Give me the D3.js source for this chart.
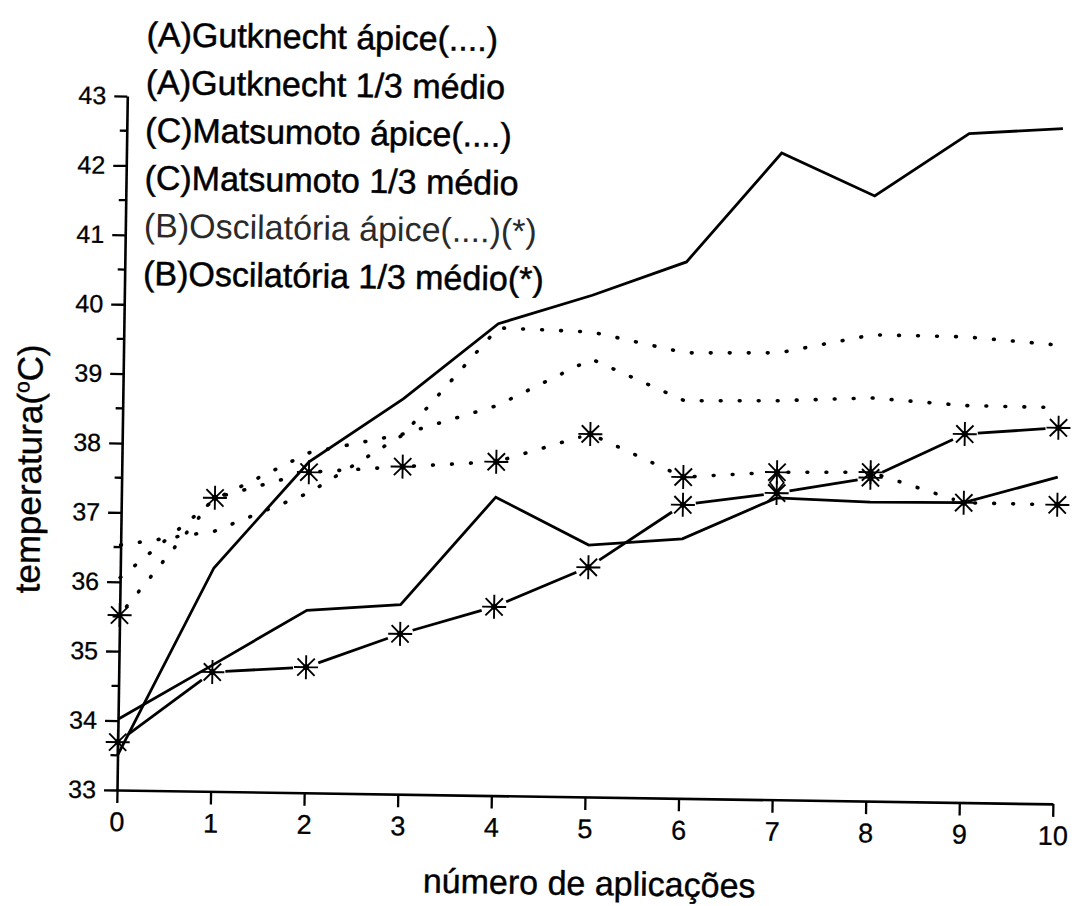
<!DOCTYPE html>
<html><head><meta charset="utf-8">
<script src="https://cdn.jsdelivr.net/npm/d3@7"></script>
<style>body{margin:0;background:#fff}svg{display:block}text{font-family:"Liberation Sans",Arial,sans-serif}</style>
</head><body>
<svg id="c" width="1083" height="906"></svg>
<script>
// ---- data ----
const applications = [0, 1, 2, 3, 4, 5, 6, 7, 8, 9, 10];
const gutknechtApice  = [36.53, 36.75, 37.32, 38.18, 39.74, 39.70, 39.42, 39.44, 39.72, 39.71, 39.61];
const gutknechtMedio  = [33.50, 36.22, 37.77, 38.70, 39.80, 40.23, 40.73, 42.32, 41.72, 42.64, 42.73];
const matsumotoApice  = [36.06, 37.21, 37.90, 38.19, 38.62, 39.31, 38.73, 38.75, 38.81, 38.72, 38.71];
const matsumotoMedio  = [34.02, 34.82, 35.63, 35.73, 37.30, 36.63, 36.74, 37.35, 37.31, 37.32, 37.71];
const oscilatoriaApice = [35.52, 37.23, 37.62, 37.72, 37.81, 38.23, 37.63, 37.72, 37.74, 37.32, 37.31];
const oscilatoriaMedio = [33.69, 34.72, 34.81, 35.31, 35.72, 36.31, 37.23, 37.42, 37.66, 38.31, 38.42];
const diamondX = [7];
const diamondY = [37.57];
const legendLabels = [
  "(A)Gutknecht ápice(....)",
  "(A)Gutknecht 1/3 médio",
  "(C)Matsumoto ápice(....)",
  "(C)Matsumoto 1/3 médio",
  "(B)Oscilatória ápice(....)(*)",
  "(B)Oscilatória 1/3 médio(*)"
];
const xTicks = [0, 1, 2, 3, 4, 5, 6, 7, 8, 9, 10];
const yTicks = [33, 34, 35, 36, 37, 38, 39, 40, 41, 42, 43];
const yMinorTicks = [33.5, 34.5, 35.5, 36.5, 37.5, 38.5, 39.5, 40.5, 41.5, 42.5];
const xTitle = "número de aplicações";
const yTitle = "temperatura(";

// ---- setup ----
const svg = d3.select("#c");
svg.append("rect").attr("width", 1083).attr("height", 906).attr("fill", "#fff");
const ANG = 0.85, OX = 117, OY = 790;
const th = ANG * Math.PI / 180, cs = Math.cos(th), sn = Math.sin(th);
function unrot(px, py) { const dx = px - OX, dy = py - OY; return [OX + dx * cs + dy * sn, OY - dx * sn + dy * cs]; }
const g = svg.append("g").attr("transform", `rotate(${ANG},${OX},${OY})`);

const x = d3.scaleLinear().domain([0, 10]).range([117, 1053]);
const y = d3.scaleLinear().domain([33, 43]).range([790, 96]);

// ---- axes ----
const ya = g.append("g").attr("transform", `translate(${x(0)},0)`)
  .call(d3.axisLeft(y).tickValues(yTicks).tickSize(13).tickSizeOuter(0).tickPadding(8).tickFormat(d3.format("d")));
ya.attr("font-family", null).attr("font-size", null);
ya.select(".domain").attr("stroke", "#000").attr("stroke-width", 2.6);
ya.selectAll(".tick line").attr("stroke", "#000").attr("stroke-width", 2.3);
ya.selectAll(".tick text").style("font-size", "25px").attr("fill", "#000")
  .attr("stroke", "#000").attr("stroke-width", 0.3);
ya.selectAll(".minor").data(yMinorTicks).join("line").attr("class", "minor")
  .attr("x1", -7).attr("x2", 0).attr("y1", d => y(d)).attr("y2", d => y(d))
  .attr("stroke", "#000").attr("stroke-width", 2.3);

const xa = g.append("g").attr("transform", `translate(0,${y(33)})`)
  .call(d3.axisBottom(x).tickValues(xTicks).tickSize(13).tickSizeOuter(0).tickPadding(9).tickFormat(d3.format("d")));
xa.attr("font-family", null).attr("font-size", null);
xa.select(".domain").attr("stroke", "#000").attr("stroke-width", 2.6);
xa.selectAll(".tick line").attr("stroke", "#000").attr("stroke-width", 2.3);
xa.selectAll(".tick text").style("font-size", "27px").attr("fill", "#000")
  .attr("stroke", "#000").attr("stroke-width", 0.3);

// ---- series ----
const toPts = vals => applications.map((a, i) => ({ x: a, y: vals[i] }));
const line = d3.line().x(d => x(d.x)).y(d => y(d.y));

function solid(vals) {
  g.append("path").datum(toPts(vals)).attr("d", line)
    .attr("fill", "none").attr("stroke", "#000").attr("stroke-width", 2.8).attr("stroke-linejoin", "miter");
}
function dotted(vals) {
  g.append("path").datum(toPts(vals)).attr("d", line)
    .attr("fill", "none").attr("stroke", "#000").attr("stroke-width", 3.6)
    .attr("stroke-linecap", "round").attr("stroke-dasharray", "0.8 18.2");
}
function gapped(vals, gap, dash) {
  const pts = toPts(vals).map(d => [x(d.x), y(d.y)]);
  const segs = d3.pairs(pts).map(([a, b]) => {
    const dx = b[0] - a[0], dy = b[1] - a[1], L = Math.hypot(dx, dy);
    const ux = dx / L, uy = dy / L;
    return [a[0] + ux * gap, a[1] + uy * gap, b[0] - ux * gap, b[1] - uy * gap];
  });
  const sel = g.append("g").selectAll("line").data(segs).join("line")
    .attr("x1", d => d[0]).attr("y1", d => d[1]).attr("x2", d => d[2]).attr("y2", d => d[3])
    .attr("stroke", "#000");
  if (dash) sel.attr("stroke-width", 3.6).attr("stroke-linecap", "round").attr("stroke-dasharray", "0.8 18.2");
  else sel.attr("stroke-width", 2.8);
}
function asterisks(vals) {
  const r = 12, d = r * 0.72;
  const p = `M${-r},0H${r}M0,${-r}V${r}M${-d},${-d}L${d},${d}M${-d},${d}L${d},${-d}`;
  const grp = g.append("g").selectAll("g").data(toPts(vals)).join("g")
    .attr("transform", q => `translate(${x(q.x)},${y(q.y)})`);
  grp.append("path").attr("d", p).attr("fill", "none").attr("stroke", "#000").attr("stroke-width", 1.9);
  grp.append("circle").attr("r", 3).attr("fill", "#000");
}

dotted(gutknechtApice);
dotted(matsumotoApice);
solid(gutknechtMedio);
solid(matsumotoMedio);
gapped(oscilatoriaApice, 11, true);
gapped(oscilatoriaMedio, 13, false);
asterisks(oscilatoriaApice);
asterisks(oscilatoriaMedio);

// diamond marker
g.append("g").selectAll("path").data(diamondX.map((v, i) => ({ x: v, y: diamondY[i] }))).join("path")
  .attr("transform", q => `translate(${x(q.x)},${y(q.y)})`)
  .attr("d", "M0,-9L7,0L0,9L-7,0Z").attr("fill", "none").attr("stroke", "#000").attr("stroke-width", 1.7);

// ---- legend ----
legendLabels.forEach((t, i) => {
  const [lx, ly] = unrot(146.5 - i * 0.7, 46 + i * 47.8);
  g.append("text").attr("x", lx).attr("y", ly).attr("font-size", 34)
    .attr("fill", i === 4 ? "#2a2a2a" : "#000")
    .attr("stroke", i === 4 ? "none" : "#000").attr("stroke-width", 0.5).text(t);
});

// ---- axis titles ----
{
  const [tx, ty] = unrot(589, 895);
  g.append("text").attr("x", tx).attr("y", ty).attr("text-anchor", "middle")
    .attr("font-size", 34).attr("fill", "#000").attr("stroke", "#000").attr("stroke-width", 0.4).text(xTitle);
}
{
  const [tx, ty] = unrot(41, 469);
  const t = g.append("text").attr("transform", `translate(${tx},${ty}) rotate(-90)`)
    .attr("text-anchor", "middle").attr("font-size", 35).attr("fill", "#000")
    .attr("stroke", "#000").attr("stroke-width", 0.4);
  t.append("tspan").text(yTitle);
  t.append("tspan").attr("font-size", 21).attr("dy", -13).text("o");
  t.append("tspan").attr("dy", 13).text("C)");
}
</script>
</body></html>
